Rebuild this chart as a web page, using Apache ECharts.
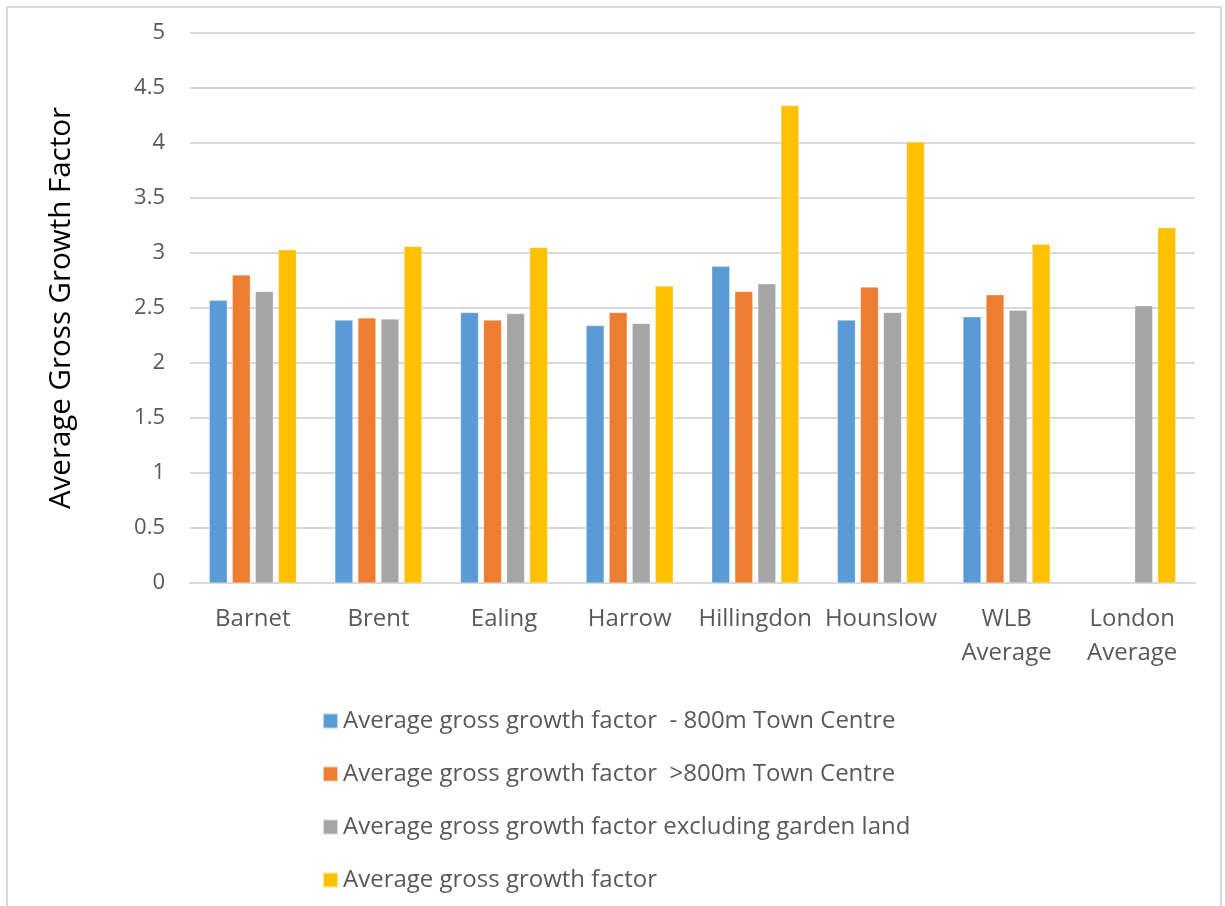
<!DOCTYPE html>
<html>
<head>
<meta charset="utf-8">
<title>Average Gross Growth Factor</title>
<script src="https://cdn.jsdelivr.net/npm/echarts@6/dist/echarts.min.js"></script>
<style>
  html, body { margin: 0; padding: 0; background: #fff; }
  #main { width: 1225px; height: 906px; }
</style>
</head>
<body>
<div id="main"></div>
<script>
// categories on the x axis
var boroughs = ["Barnet", "Brent", "Ealing", "Harrow", "Hillingdon", "Hounslow", "WLB Average", "London Average"];

// series values
var within800 = [2.57, 2.39, 2.46, 2.34, 2.88, 2.39, 2.42, null];
var beyond800 = [2.80, 2.41, 2.39, 2.46, 2.65, 2.69, 2.62, null];
var exGarden = [2.65, 2.40, 2.45, 2.36, 2.72, 2.46, 2.48, 2.52];
var overall = [3.03, 3.06, 3.05, 2.70, 4.34, 4.01, 3.08, 3.23];

var seriesNames = [
  "Average gross growth factor  - 800m Town Centre",
  "Average gross growth factor  >800m Town Centre",
  "Average gross growth factor excluding garden land",
  "Average gross growth factor"
];
var colors = ["#5b9bd5", "#ed7d31", "#a5a5a5", "#ffc000"];

var chart = echarts.init(document.getElementById("main"));

function barSeries(name, data) {
  return {
    name: name,
    type: "bar",
    data: data,
    barWidth: 18,
    barGap: "28%",
    itemStyle: { borderColor: "rgba(255,255,255,0.6)", borderWidth: 0.5 }
  };
}

var option = {
  animation: false,
  color: colors,
  textStyle: { fontFamily: "Open Sans" },
  graphic: [
    {
      type: "rect",
      shape: { x: 7, y: 7, width: 1214, height: 930 },
      style: { fill: "none", stroke: "#d9d9d9", lineWidth: 2 },
      silent: true
    }
  ],
  grid: { left: 190, right: 30, top: 33, bottom: 323 },
  legend: {
    orient: "vertical",
    left: 317,
    top: 704,
    icon: "rect",
    itemWidth: 15,
    itemHeight: 15,
    itemGap: 29,
    data: seriesNames,
    textStyle: {
      color: "#595959",
      fontSize: 24,
      lineHeight: 24
    }
  },
  xAxis: {
    type: "category",
    data: boroughs,
    axisLine: { lineStyle: { color: "#d9d9d9", width: 2 } },
    axisTick: { show: false },
    axisLabel: {
      color: "#595959",
      fontSize: 24,
      lineHeight: 34,
      margin: 19,
      interval: 0,
      formatter: function (v) {
        return v.replace(" ", "\n");
      }
    }
  },
  yAxis: {
    type: "value",
    min: 0,
    max: 5,
    interval: 0.5,
    name: "Average Gross Growth Factor",
    nameLocation: "middle",
    nameGap: 113,
    nameTextStyle: { color: "#000", fontSize: 29.5 },
    axisLine: { show: false },
    axisTick: { show: false },
    axisLabel: { color: "#595959", fontSize: 22, margin: 25 },
    splitLine: { lineStyle: { color: "#d9d9d9", width: 2 } }
  },
  series: [
    barSeries(seriesNames[0], within800),
    barSeries(seriesNames[1], beyond800),
    barSeries(seriesNames[2], exGarden),
    barSeries(seriesNames[3], overall)
  ]
};

chart.setOption(option);
</script>
</body>
</html>
